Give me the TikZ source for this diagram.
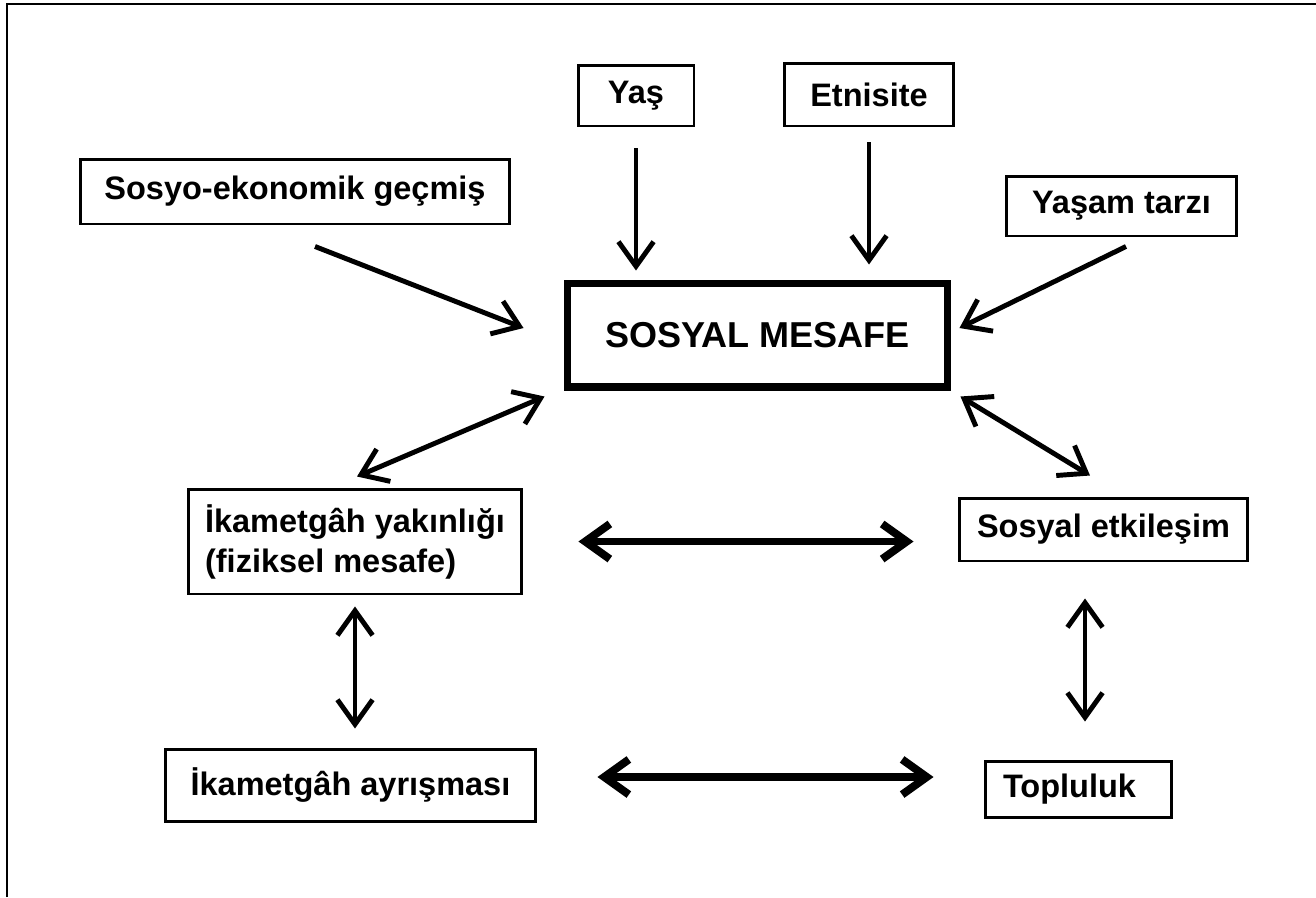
\documentclass[tikz,border=0pt]{standalone}
\usepackage{fontspec}
\setmainfont{Liberation Sans}
\usetikzlibrary{arrows.meta}
\begin{document}
\begin{tikzpicture}[x=0.02cm,y=-0.02cm,>={Straight Barb[length=14pt,width=20pt]},
    kutu/.style={draw,line width=1.7pt,inner sep=0pt,font=\bfseries\fontsize{18.5pt}{22.8pt}\selectfont},
    ok/.style={<-,line width=2.8pt},
    cift/.style={<->,line width=2.8pt},
    kalin/.style={<->,line width=4.5pt}]
\useasboundingbox (0,0) rectangle (1316,897);
\draw[line width=1.5pt](7,897)--(7,4)--(1316,4);
% kutular
\node[kutu,minimum width=2.32cm,minimum height=1.22cm](yas) at (636,95.5){Yaş};
\node[kutu,minimum width=3.4cm,minimum height=1.26cm](etni) at (869,94.5){Etnisite};
\node[kutu,minimum width=8.6cm,minimum height=1.3cm](sosyo) at (295,191.5){Sosyo-ekonomik geçmiş};
\node[kutu,minimum width=4.62cm,minimum height=1.2cm](yasam) at (1121.5,206){Yaşam tarzı};
\node[kutu,line width=4pt,font=\bfseries\fontsize{20.5pt}{24pt}\selectfont,minimum width=7.62cm,minimum height=2.08cm](mesafe) at (757.5,335){SOSYAL MESAFE};
\node[kutu,align=left,minimum width=6.68cm,minimum height=2.1cm](yakin) at (355,541.5){İkametgâh yakınlığı\\(fiziksel mesafe)};
\node[kutu,minimum width=5.78cm,minimum height=1.26cm](etkil) at (1103.5,529.5){Sosyal etkileşim};
\node[kutu,minimum width=7.42cm,minimum height=1.44cm](ayris) at (350.5,785){İkametgâh ayrışması};
\node[kutu,minimum width=3.74cm,minimum height=1.12cm,text width=3.02cm](toplu) at (1078.5,789){Topluluk};
% oklar
\draw[ok,shorten <=0.18cm,shorten >=0.42cm](yas.south|-mesafe.north)--(yas.south);
\draw[ok,shorten <=0.3cm,shorten >=0.3cm](etni.south|-mesafe.north)--(etni.south);
\draw[ok]([shift={(-40,-7)}]mesafe.west)--([shift={(20,21)}]sosyo.south);
\draw[ok]([shift={(8,-7)}]mesafe.east)--([shift={(4.5,9)}]yasam.south);
\draw[cift]([shift={(-19,6)}]mesafe.south west)--([shift={(2,-11)}]yakin.north);
\draw[cift]([shift={(9,6)}]mesafe.south east)--([shift={(-13.5,-21)}]etkil.north);
\draw[kalin,shorten <=1.1cm,shorten >=0.88cm](yakin.east)--(yakin.east-|etkil.west);
\draw[cift,shorten <=0.22cm,shorten >=0.38cm](yakin.south)--(yakin.south|-ayris.north);
\draw[cift,shorten <=0.72cm,shorten >=0.76cm]([xshift=-0.37cm]etkil.south)--([xshift=-0.37cm]etkil.south|-toplu.north);
\draw[kalin,shorten <=1.2cm,shorten >=1cm]([yshift=0.16cm]ayris.east)--([yshift=0.16cm]ayris.east-|toplu.west);
\end{tikzpicture}
\end{document}
